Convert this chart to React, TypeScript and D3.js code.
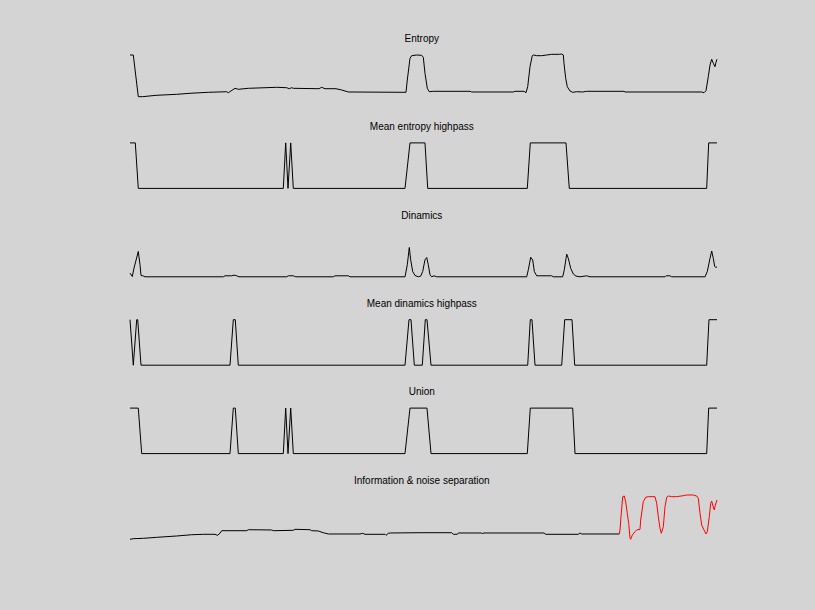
import React, { useEffect } from "react";
import * as d3 from "d3";

// Frame axis (x) runs 0..240 for every panel; y values are normalised to each panel's range.
const titles = [
  "Entropy",
  "Mean entropy highpass",
  "Dinamics",
  "Mean dinamics highpass",
  "Union",
  "Information & noise separation",
];

const entropyX = [0, 1.35, 3.39, 5.19, 10.63, 19.09, 24.53, 32.01, 39.54, 40.19, 42.93, 44.28, 48.37, 59.98, 64.07, 65.13, 66.11, 66.77, 77.27, 78.38, 79.73, 84.23, 86.56, 89.26, 112.85, 113.38, 114.48, 115.18, 117.22, 119.26, 119.92, 120.61, 121.55, 122.37, 124.01, 139.01, 139.71, 156.72, 157.41, 161.09, 161.91, 162.61, 163.54, 164.48, 164.89, 166.28, 168.33, 170.37, 172.42, 175.52, 176.5, 177.16, 177.44, 178.14, 178.79, 179.9, 181.0, 182.64, 185.09, 186.73, 201.98, 202.39, 233.75, 234.69, 235.5, 236.44, 237.14, 237.83, 238.49, 239.18, 239.59, 240];
const entropyY = [0.989, 0.989, 0.073, 0.073, 0.103, 0.125, 0.147, 0.169, 0.182, 0.16, 0.257, 0.235, 0.257, 0.279, 0.27, 0.248, 0.27, 0.257, 0.248, 0.279, 0.248, 0.248, 0.22, 0.176, 0.169, 0.44, 0.916, 0.974, 0.989, 0.982, 0.938, 0.587, 0.257, 0.182, 0.191, 0.191, 0.176, 0.176, 0.191, 0.191, 0.16, 0.292, 0.732, 0.974, 0.989, 0.974, 0.974, 0.989, 1.004, 1.004, 1.011, 0.989, 0.807, 0.477, 0.292, 0.198, 0.169, 0.182, 0.176, 0.191, 0.191, 0.176, 0.176, 0.16, 0.204, 0.512, 0.769, 0.895, 0.807, 0.732, 0.829, 0.895];

const entropyHpX = [0, 2.17, 3.39, 62.68, 63.66, 64.6, 65.71, 66.77, 112.44, 114.48, 120.61, 121.72, 162.44, 163.66, 178.26, 179.61, 235.78, 236.6, 240];
const entropyHpY = [1, 1, 0, 0, 1, 0, 1, 0, 0, 1, 1, 0, 0, 1, 1, 0, 0, 1, 1];

const dinamicsX = [0, 0.94, 1.64, 3.39, 4.09, 4.5, 5.44, 6.13, 38.15, 38.84, 41.58, 42.52, 43.63, 44.57, 64.07, 64.72, 66.77, 67.75, 83.12, 83.82, 89.26, 89.95, 112.44, 113.38, 114.19, 114.76, 115.58, 116.52, 117.87, 118.85, 119.67, 120.61, 121.31, 121.96, 122.66, 123.35, 124.29, 125.4, 162.2, 162.85, 163.83, 164.65, 165.31, 166.28, 172.42, 173.07, 176.91, 177.57, 178.55, 179.2, 180.18, 181.25, 182.35, 183.99, 186.73, 188.08, 218.74, 219.15, 220.78, 221.48, 235.09, 236.03, 237.14, 237.83, 238.49, 239.06, 239.47, 240];
const dinamicsY = [0.081, 0.007, 0.191, 0.556, 0.264, 0.029, 0.018, 0, 0, 0.022, 0.022, 0.037, 0.022, 0, 0, 0.022, 0.022, 0, 0, 0.022, 0.022, 0, 0, 0.264, 0.644, 0.374, 0.116, 0.029, 0, 0.015, 0.116, 0.374, 0.424, 0.264, 0.044, 0, 0.022, 0, 0, 0.154, 0.429, 0.369, 0.116, 0.022, 0.022, 0, 0, 0.154, 0.499, 0.407, 0.187, 0.062, 0.015, 0, 0.022, 0, 0, 0.022, 0.022, 0, 0, 0.116, 0.407, 0.567, 0.407, 0.226, 0.209, 0.215];

const dinamicsHpX = [0, 1.35, 2.74, 3.15, 4.5, 40.89, 42.24, 43.05, 44.28, 112.44, 114.07, 114.89, 116.24, 119.51, 120.74, 121.43, 123.07, 162.61, 163.66, 164.36, 165.59, 176.5, 177.73, 180.72, 181.82, 235.78, 236.72, 240];
const dinamicsHpY = [1, 0, 1, 1, 0, 0, 1, 1, 0, 0, 1, 1, 0, 0, 1, 1, 0, 0, 1, 1, 0, 0, 1, 1, 0, 0, 1, 1];

const unionX = [0, 3.39, 4.78, 40.89, 42.24, 43.05, 44.28, 62.68, 63.66, 64.6, 65.71, 66.77, 112.44, 114.48, 121.43, 123.07, 162.44, 163.66, 181.0, 181.95, 235.78, 236.6, 240];
const unionY = [1, 1, 0, 0, 1, 1, 0, 0, 1, 0, 1, 0, 0, 1, 1, 0, 0, 1, 1, 0, 0, 1, 1];

const noiseX = [0, 1.35, 5.44, 10.92, 19.09, 25.23, 29.97, 34.75, 35.69, 36.51, 37.49, 47.71, 48.37, 57.93, 58.59, 66.77, 67.46, 73.59, 74.29, 76.99, 79.03, 81.08, 94.04, 95.14, 96.08, 104.26, 104.67, 105.61, 106.59, 118.57, 131.53, 132.19, 133.82, 134.23, 143.8, 144.21, 144.45, 169.27, 169.96, 183.29, 183.99, 184.68, 200.05];
const noiseY = [0.059, 0.073, 0.081, 0.103, 0.132, 0.16, 0.169, 0.169, 0.147, 0.176, 0.248, 0.248, 0.27, 0.264, 0.248, 0.257, 0.279, 0.27, 0.248, 0.242, 0.204, 0.176, 0.176, 0.191, 0.169, 0.169, 0.147, 0.191, 0.198, 0.204, 0.204, 0.169, 0.169, 0.198, 0.198, 0.176, 0.198, 0.198, 0.169, 0.169, 0.198, 0.176, 0.176];

const infoX = [200.05, 200.34, 200.75, 201.44, 202.1, 202.67, 203.32, 203.9, 204.43, 204.72, 205.37, 206.47, 207.17, 208.52, 208.8, 209.87, 210.85, 211.91, 214.65, 215.35, 216.0, 216.7, 217.23, 218.05, 218.74, 219.44, 220.09, 221.48, 223.52, 226.22, 227.61, 230.31, 231.7, 232.35, 233.05, 233.75, 234.69, 235.5, 236.03, 236.85, 237.42, 237.83, 238.24, 238.9, 239.3, 240];
const infoY = [0.176, 0.264, 0.556, 0.996, 1.011, 0.886, 0.631, 0.411, 0.081, 0.059, 0.154, 0.226, 0.264, 0.279, 0.484, 0.886, 0.982, 0.996, 0.996, 0.851, 0.556, 0.301, 0.191, 0.336, 0.776, 0.982, 1.011, 0.996, 0.996, 1.018, 1.033, 1.033, 1.011, 0.96, 0.631, 0.374, 0.264, 0.176, 0.226, 0.556, 0.851, 0.901, 0.813, 0.703, 0.813, 0.923];

type Seg = { xs: number[]; ys: number[]; color: string };

const W = 815;
const H = 610;

export default function App() {
  useEffect(() => {
    document.body.style.margin = "0";
  }, []);

  const x = d3.scaleLinear().domain([0, 240]).range([130, 717]);
  const panelTop = (k: number) => 54.5 + 88.4 * k;
  const panelH = 45.5;

  const panels: Seg[][] = [
    [{ xs: entropyX, ys: entropyY, color: "#000" }],
    [{ xs: entropyHpX, ys: entropyHpY, color: "#000" }],
    [{ xs: dinamicsX, ys: dinamicsY, color: "#000" }],
    [{ xs: dinamicsHpX, ys: dinamicsHpY, color: "#000" }],
    [{ xs: unionX, ys: unionY, color: "#000" }],
    [
      { xs: noiseX, ys: noiseY, color: "#000" },
      { xs: infoX, ys: infoY, color: "#ff0000" },
    ],
  ];

  return (
    <svg
      width={W}
      height={H}
      style={{ display: "block" }}
      fontFamily="'Liberation Sans', Arial, sans-serif"
    >
      <rect width={W} height={H} fill="#d4d4d4" />
      {panels.map((segs, k) => {
        const top = panelTop(k);
        const y = d3.scaleLinear().domain([0, 1]).range([top + panelH, top]);
        return (
          <g key={k}>
            <text
              x={(106 + 737.6) / 2}
              y={top - 12.8}
              textAnchor="middle"
              fontSize={10}
              fill="#000"
            >
              {titles[k]}
            </text>
            {segs.map((s, j) => {
              const pts: [number, number][] = s.xs.map((v, i) => [v, s.ys[i]]);
              const line = d3
                .line<[number, number]>()
                .x((d) => x(d[0]))
                .y((d) => y(d[1]));
              return (
                <path
                  key={j}
                  d={line(pts) || ""}
                  fill="none"
                  stroke={s.color}
                  strokeWidth={1}
                  strokeLinejoin="round"
                />
              );
            })}
          </g>
        );
      })}
    </svg>
  );
}
